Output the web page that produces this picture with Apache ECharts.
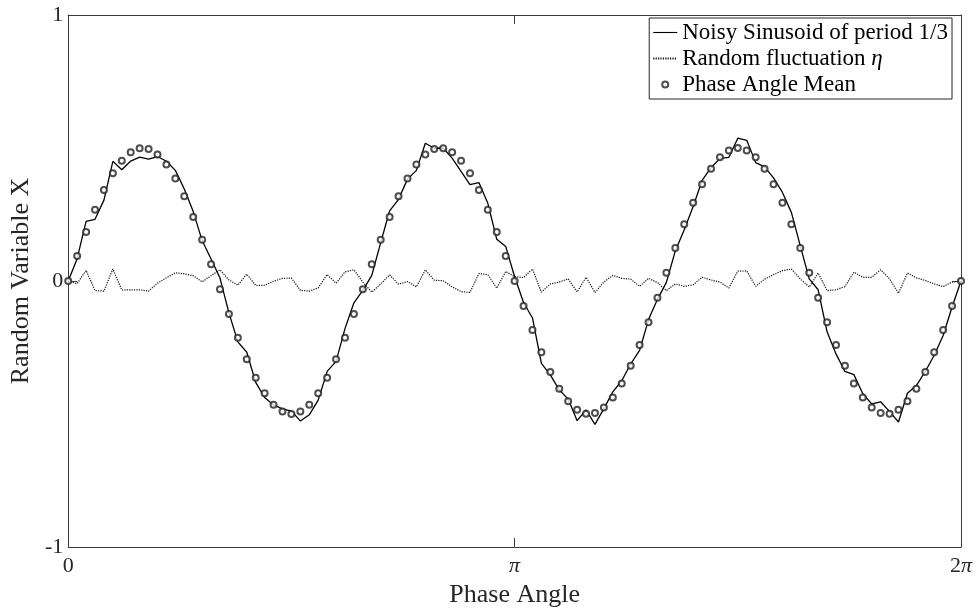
<!DOCTYPE html>
<html>
<head>
<meta charset="utf-8">
<script src="https://cdn.jsdelivr.net/npm/echarts@6/dist/echarts.min.js"></script>
<style>html,body{margin:0;padding:0;background:#fff}#c{width:979px;height:616px}</style>
</head>
<body>
<div id="c"></div>
<script>
// Phase angle samples are expressed in units of pi (0 .. 2)
const xTicks = [0, 1, 2];
const xTickLabels = ['0', '{i|π}', '2{i|π}'];
const yTicks = [-1, 0, 1];

// Phase Angle Mean (open circles)
const mean = [0, 0.094, 0.184, 0.268, 0.342, 0.405, 0.452, 0.484, 0.499, 0.496,
  0.476, 0.438, 0.385, 0.319, 0.241, 0.155, 0.063, -0.031, -0.124, -0.213,
  -0.294, -0.364, -0.422, -0.465, -0.491, -0.5, -0.491, -0.465, -0.422, -0.364,
  -0.294, -0.213, -0.124, -0.031, 0.063, 0.155, 0.241, 0.319, 0.385, 0.438,
  0.476, 0.496, 0.499, 0.484, 0.452, 0.405, 0.342, 0.268, 0.184, 0.094,
  0, -0.094, -0.184, -0.268, -0.342, -0.405, -0.452, -0.484, -0.499, -0.496,
  -0.476, -0.438, -0.385, -0.319, -0.241, -0.155, -0.063, 0.031, 0.124, 0.213,
  0.294, 0.364, 0.422, 0.465, 0.491, 0.5, 0.491, 0.465, 0.422, 0.364,
  0.294, 0.213, 0.124, 0.031, -0.063, -0.155, -0.241, -0.319, -0.385, -0.438,
  -0.476, -0.496, -0.499, -0.484, -0.452, -0.405, -0.342, -0.268, -0.184, -0.094,
  0];

// Random fluctuation eta (dotted)
const eta = [0, -0.01, 0.04, -0.036, -0.038, 0.045, -0.034, -0.033, -0.033, -0.038,
  -0.008, 0.012, 0.031, 0.027, 0.02, -0.003, 0.02, 0.042, 0.004, -0.016,
  0.026, -0.017, -0.016, -0.001, 0.01, 0.011, -0.035, -0.038, -0.026, 0.024,
  -0.008, 0.034, 0.042, -0.004, -0.042, -0.011, 0.023, -0.012, -0.002, -0.022,
  0.042, 0.003, 0.001, -0.022, -0.04, -0.043, 0.028, 0.024, -0.027, 0.036,
  0.016, 0.013, 0.045, -0.042, -0.011, -0.004, 0.008, -0.041, 0.014, -0.043,
  -0.004, 0.021, 0.01, 0.007, -0.02, 0.01, -0.006, -0.036, -0.011, -0.02,
  -0.014, 0.014, 0.004, -0.004, -0.026, 0.037, 0.038, -0.02, 0.007, 0.024,
  0.039, 0.045, 0.008, -0.023, 0.03, -0.036, -0.033, -0.021, 0.033, 0.014,
  0.014, 0.042, 0.008, -0.046, 0.03, 0.012, 0.002, -0.011, -0.021, -0.004,
  0];

// Noisy sinusoid of period 1/3 (solid)
const noisy = [0, 0.084, 0.224, 0.232, 0.304, 0.45, 0.418, 0.451, 0.466, 0.458,
  0.468, 0.45, 0.416, 0.346, 0.261, 0.152, 0.083, 0.011, -0.12, -0.229,
  -0.268, -0.381, -0.438, -0.466, -0.481, -0.489, -0.526, -0.503, -0.448, -0.34,
  -0.302, -0.179, -0.082, -0.035, 0.021, 0.144, 0.264, 0.307, 0.383, 0.416,
  0.518, 0.499, 0.5, 0.462, 0.412, 0.362, 0.37, 0.292, 0.157, 0.13,
  0.016, -0.081, -0.139, -0.31, -0.353, -0.409, -0.444, -0.525, -0.485, -0.539,
  -0.48, -0.417, -0.375, -0.312, -0.261, -0.145, -0.069, -0.005, 0.113, 0.193,
  0.28, 0.378, 0.426, 0.461, 0.465, 0.537, 0.529, 0.445, 0.429, 0.388,
  0.333, 0.258, 0.132, 0.008, -0.033, -0.191, -0.274, -0.34, -0.352, -0.424,
  -0.462, -0.454, -0.491, -0.53, -0.422, -0.393, -0.34, -0.279, -0.205, -0.098,
  0];

const phase = mean.map((_, i) => i / 50);
const pairs = arr => arr.map((v, i) => [phase[i], v]);

const FONT = '"Liberation Serif", "DejaVu Serif", serif';
const TXT = '#262626';
const AX = '#3a3a3a';
const NOICON = {color: 'rgba(0,0,0,0)', borderColor: 'rgba(0,0,0,0)', borderWidth: 0, opacity: 0};

const chart = echarts.init(document.getElementById('c'), null, {renderer: 'canvas'});
const baseX = {
  type: 'value', min: 0, max: 2, interval: 1,
  axisLine: {show: true, onZero: false, lineStyle: {color: AX, width: 1}},
  axisTick: {show: true, inside: true, length: 9, customValues: xTicks, lineStyle: {color: AX}},
  splitLine: {show: false}
};
const baseY = {
  type: 'value', min: -1, max: 1, interval: 1,
  axisLine: {show: true, onZero: false, lineStyle: {color: AX, width: 1}},
  axisTick: {show: true, inside: true, length: 9, lineStyle: {color: AX}},
  splitLine: {show: false}
};
chart.setOption({
  animation: false,
  backgroundColor: '#fff',
  grid: {left: 67, right: 18, top: 15, bottom: 69, containLabel: false},
  xAxis: [
    Object.assign({}, baseX, {
      position: 'bottom',
      name: 'Phase Angle', nameLocation: 'middle', nameGap: 35,
      nameTextStyle: {fontFamily: FONT, fontSize: 26, color: TXT},
      axisLabel: {
        show: true, margin: 8, fontFamily: FONT, fontSize: 22, color: TXT,
        customValues: xTicks,
        formatter: v => xTickLabels[xTicks.indexOf(Math.round(v))],
        rich: {i: {fontFamily: FONT, fontSize: 22, fontStyle: 'italic', color: TXT}}
      }
    }),
    Object.assign({}, baseX, {position: 'top', axisLabel: {show: false}})
  ],
  yAxis: [
    Object.assign({}, baseY, {
      position: 'left',
      name: 'Random Variable X', nameLocation: 'middle', nameGap: 30,
      nameTextStyle: {fontFamily: FONT, fontSize: 26, color: TXT},
      axisLabel: {show: true, margin: 5, fontFamily: FONT, fontSize: 22, color: TXT,
        formatter: v => String(v)}
    }),
    Object.assign({}, baseY, {position: 'right', axisLabel: {show: false}})
  ],
  legend: {
    orient: 'vertical', right: 27, top: 18, align: 'left',
    itemWidth: 24, itemHeight: 6, itemGap: 3,
    padding: [3, 4, 3, 3],
    borderColor: '#262626', borderWidth: 1, backgroundColor: '#fff',
    textStyle: {fontFamily: FONT, fontSize: 23, color: '#000',
      rich: {i: {fontFamily: FONT, fontSize: 23, fontStyle: 'italic', color: '#000'}}},
    formatter: n => n === 'Random fluctuation η' ? 'Random fluctuation {i|η}' : n,
    data: [
      {name: 'Noisy Sinusoid of period 1/3', itemStyle: NOICON, lineStyle: {width: 1.1, color: '#000'}},
      {name: 'Random fluctuation η', itemStyle: NOICON},
      {name: 'Phase Angle Mean'}
    ]
  },
  series: [
    {
      name: 'Noisy Sinusoid of period 1/3', type: 'line', data: pairs(noisy),
      symbol: 'none', showSymbol: false, z: 3,
      lineStyle: {color: '#000', width: 1.3},
      itemStyle: {color: '#000'}
    },
    {
      name: 'Random fluctuation η', type: 'line', data: pairs(eta),
      symbol: 'none', showSymbol: false, z: 2,
      lineStyle: {color: '#111', width: 1.2, type: [1.2, 1.2]},
      itemStyle: {color: '#111'}
    },
    {
      name: 'Phase Angle Mean', type: 'scatter', data: pairs(mean),
      symbol: 'emptyCircle', symbolSize: 6, z: 4,
      itemStyle: {color: '#222', borderColor: '#222', borderWidth: 0.8}
    }
  ]
});
</script>
</body>
</html>
